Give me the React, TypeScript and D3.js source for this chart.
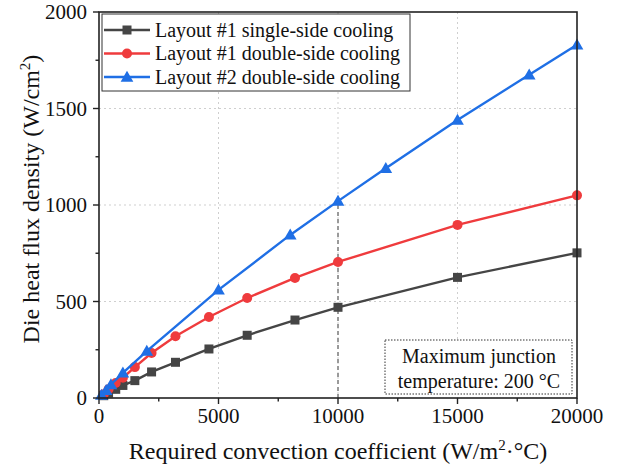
import React from 'react'
import * as d3 from 'd3'

const blackX = [200, 400, 700, 1000, 1500, 2200, 3200, 4600, 6200, 8200, 10000, 15000, 20000]
const blackY = [12, 25, 45, 65, 90, 135, 185, 254, 325, 404, 470, 625, 752]
const redX = [200, 400, 700, 1000, 1500, 2200, 3200, 4600, 6200, 8200, 10000, 15000, 20000]
const redY = [20, 45, 78, 105, 160, 233, 320, 420, 518, 622, 705, 897, 1050]
const blueX = [100, 300, 500, 1000, 2000, 5000, 8000, 10000, 12000, 15000, 18000, 20000]
const blueY = [15, 40, 70, 130, 243, 560, 845, 1020, 1190, 1440, 1675, 1830]

const seriesNames = [
  'Layout #1 single-side cooling',
  'Layout #1 double-side cooling',
  'Layout #2 double-side cooling',
]
const xTicks = [0, 5000, 10000, 15000, 20000]
const yTicks = [0, 500, 1000, 1500, 2000]
const markerX = 10000

const FONT = '"Liberation Serif", "Times New Roman", serif'
const colors = ['#454545', '#ef3b3d', '#1f6fe5']

const left = 99
const right = 577
const top = 12
const bottom = 398

const Marker = ({ kind, x, y, color }: { kind: number; x: number; y: number; color: string }) => {
  if (kind === 0) return <rect x={x - 4.5} y={y - 4.5} width={9} height={9} fill={color} />
  if (kind === 1) return <circle cx={x} cy={y} r={5} fill={color} />
  const sym = d3.symbol(d3.symbolTriangle, 70)()
  return <path d={sym || ''} transform={`translate(${x},${y + 1})`} fill={color} />
}

const App = () => {
  const xScale = d3.scaleLinear().domain([0, 20000]).range([left, right])
  const yScale = d3.scaleLinear().domain([0, 2000]).range([bottom, top])
  const line = d3
    .line<[number, number]>()
    .x((d) => xScale(d[0]))
    .y((d) => yScale(d[1]))

  const series = [
    d3.zip(blackX, blackY) as [number, number][],
    d3.zip(redX, redY) as [number, number][],
    d3.zip(blueX, blueY) as [number, number][],
  ]

  const xMinor = d3.range(0, 20001, 2500)
  const yMinor = d3.range(0, 2001, 250)
  const blueAtMarker = blueY[blueX.indexOf(markerX)]

  return (
    <svg
      width={622}
      height={467}
      style={{ position: 'absolute', left: 0, top: 0, background: '#fff' }}
      fontFamily={FONT}
    >
      {/* grid */}
      {xTicks.slice(1, -1).map((t) => (
        <line key={'gx' + t} x1={xScale(t)} x2={xScale(t)} y1={top} y2={bottom} stroke="#cfcfcf" strokeDasharray="2,3" />
      ))}
      {yTicks.slice(1, -1).map((t) => (
        <line key={'gy' + t} x1={left} x2={right} y1={yScale(t)} y2={yScale(t)} stroke="#cfcfcf" strokeDasharray="2,3" />
      ))}
      {/* marker line at 10000 */}
      <line
        x1={xScale(markerX)}
        x2={xScale(markerX)}
        y1={bottom}
        y2={yScale(blueAtMarker)}
        stroke="#9a9a9a"
        strokeWidth={2}
        strokeDasharray="4,3"
      />
      {series.map((s, i) => (
        <g key={i}>
          <path d={line(s) || ''} fill="none" stroke={colors[i]} strokeWidth={2.4} />
          {s.map((d, j) => (
            <Marker key={j} kind={i} x={xScale(d[0])} y={yScale(d[1])} color={colors[i]} />
          ))}
        </g>
      ))}
      {/* frame */}
      <rect x={left} y={top} width={right - left} height={bottom - top} fill="none" stroke="#222" strokeWidth={1.6} />
      {/* ticks */}
      {xMinor.map((t) => (
        <line key={'xt' + t} x1={xScale(t)} x2={xScale(t)} y1={bottom} y2={bottom + (t % 5000 === 0 ? 6 : 3.5)} stroke="#222" strokeWidth={1.4} />
      ))}
      {yMinor.map((t) => (
        <line key={'yt' + t} x1={left} x2={left - (t % 500 === 0 ? 6 : 3.5)} y1={yScale(t)} y2={yScale(t)} stroke="#222" strokeWidth={1.4} />
      ))}
      {xTicks.map((t) => (
        <text key={'xl' + t} x={xScale(t)} y={bottom + 25} fontSize={21} textAnchor="middle" fill="#111">
          {t}
        </text>
      ))}
      {yTicks.map((t) => (
        <text key={'yl' + t} x={left - 12} y={yScale(t) + 7} fontSize={21} textAnchor="end" fill="#111">
          {t}
        </text>
      ))}
      {/* axis titles */}
      <text x={338} y={459} fontSize={24} textAnchor="middle" fill="#111">
        Required convection coefficient (W/m
        <tspan dy={-9} fontSize={15}>2</tspan>
        <tspan dy={9}>·°C)</tspan>
      </text>
      <text transform="translate(39,199) rotate(-90)" fontSize={24} textAnchor="middle" fill="#111">
        Die heat flux density (W/cm
        <tspan dy={-9} fontSize={15}>2</tspan>
        <tspan dy={9}>)</tspan>
      </text>
      {/* legend */}
      <rect x={102} y={14} width={308} height={77} fill="#fff" stroke="#333" strokeWidth={1} />
      {seriesNames.map((n, i) => {
        const ly = 30 + i * 23.5
        return (
          <g key={n}>
            <line x1={104} x2={150} y1={ly} y2={ly} stroke={colors[i]} strokeWidth={2.4} />
            <Marker kind={i} x={127} y={ly} color={colors[i]} />
            <text x={155} y={ly + 6.5} fontSize={20} fill="#111">
              {n}
            </text>
          </g>
        )
      })}
      {/* annotation */}
      <rect x={385} y={340} width={187} height={54} fill="#fff" stroke="#333" strokeWidth={1} strokeDasharray="1.5,1.5" />
      <text x={479} y={363} fontSize={20} textAnchor="middle" fill="#111">
        Maximum junction
      </text>
      <text x={479} y={388} fontSize={20} textAnchor="middle" fill="#111">
        temperature: 200 °C
      </text>
    </svg>
  )
}

export default App
